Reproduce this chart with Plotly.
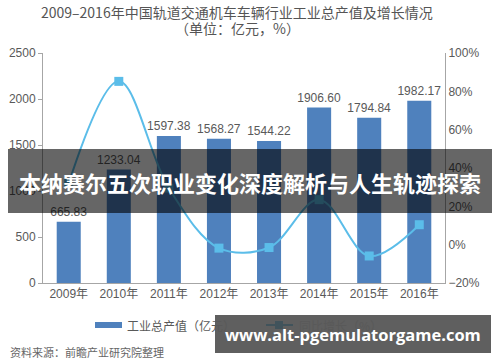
import plotly.graph_objects as go

years = ["2009年", "2010年", "2011年", "2012年", "2013年", "2014年", "2015年", "2016年"]
output_values = [665.83, 1233.04, 1597.38, 1568.27, 1544.22, 1906.60, 1794.84, 1982.17]
growth_values = [32.0, 85.2, 29.5, -1.8, -1.5, 23.5, -5.9, 10.4]
output_labels = ["665.83", "1233.04", "1597.38", "1568.27", "1544.22", "1906.60", "1794.84", "1982.17"]

BAR = "#4f81bd"
LINE = "#5bbde9"
GRAY = "#595959"
FONT = "Noto Sans CJK SC, Noto Sans, sans-serif"
NUMFONT = "Liberation Sans, Arial, Noto Sans CJK SC, sans-serif"

# plot-area geometry in px (for paper conversions of overlays)
L, R, T, B = 43, 55, 53, 79
W, H = 500, 362
PW, PH = W - L - R, H - T - B


def px(x):
    return (x - L) / PW


def py(y):
    return (H - B - y) / PH


fig = go.Figure()
fig.add_trace(go.Bar(
    x=years, y=output_values, name="工业总产值（亿元）",
    marker=dict(color=BAR, line=dict(width=0)), width=0.48,
    text=output_labels, textposition="outside", cliponaxis=False, constraintext="none",
    textfont=dict(size=12, color=GRAY, family=NUMFONT),
))
fig.add_trace(go.Scatter(
    x=years, y=growth_values, name="同比增长（%）", yaxis="y2",
    mode="lines+markers", line=dict(color=LINE, width=2, shape="spline", smoothing=1.0),
    marker=dict(symbol="square", size=9, color=LINE),
))

shapes = [
    # banner overlay
    dict(type="rect", xref="paper", yref="paper", x0=px(8), x1=px(492), y0=py(213), y1=py(149),
         fillcolor="rgba(0,0,0,0.6)", line=dict(width=0), layer="above"),
    # legend symbols
    dict(type="rect", xref="paper", yref="paper", x0=px(95), x1=px(122), y0=py(328), y1=py(322),
         fillcolor=BAR, line=dict(width=0), layer="above"),
    dict(type="line", xref="paper", yref="paper", x0=px(266), x1=px(293), y0=py(325), y1=py(325),
         line=dict(color=LINE, width=2), layer="above"),
    dict(type="rect", xref="paper", yref="paper", x0=px(275), x1=px(283), y0=py(329), y1=py(321),
         fillcolor=LINE, line=dict(width=0), layer="above"),
    # watermark box
    dict(type="rect", xref="paper", yref="paper", x0=px(215), x1=px(491), y0=py(353), y1=py(315),
         fillcolor="rgba(60,60,60,0.82)", line=dict(width=0), layer="above"),
]

annotations = [
    dict(text="2009–2016年中国轨道交通机车车辆行业工业总产值及增长情况", x=px(237), y=py(12),
         xref="paper", yref="paper", showarrow=False, xanchor="center", yanchor="middle",
         font=dict(size=14, color="#555555", family=FONT)),
    dict(text="（单位：亿元，%）", x=px(237), y=py(28),
         xref="paper", yref="paper", showarrow=False, xanchor="center", yanchor="middle",
         font=dict(size=14, color="#555555", family=FONT)),
    dict(text="工业总产值（亿元）", x=px(125), y=py(325),
         xref="paper", yref="paper", showarrow=False, xanchor="left", yanchor="middle",
         font=dict(size=12, color=GRAY, family=FONT)),
    dict(text="同比增长（%）", x=px(297), y=py(325),
         xref="paper", yref="paper", showarrow=False, xanchor="left", yanchor="middle",
         font=dict(size=12, color=GRAY, family=FONT)),
    dict(text="资料来源：前瞻产业研究院整理", x=px(8), y=py(352),
         xref="paper", yref="paper", showarrow=False, xanchor="left", yanchor="middle",
         font=dict(size=11, color="#666666", family=FONT)),
    dict(text="<b>本纳赛尔五次职业变化深度解析与人生轨迹探索</b>", x=px(250), y=py(182),
         xref="paper", yref="paper", showarrow=False, xanchor="center", yanchor="middle",
         font=dict(size=22, color="white", family=FONT)),
    dict(text="<b>www.alt-pgemulatorgame.com</b>", x=px(353), y=py(334),
         xref="paper", yref="paper", showarrow=False, xanchor="center", yanchor="middle",
         font=dict(size=16.5, color="white", family="Open Sans, DejaVu Sans, sans-serif")),
]

fig.update_layout(
    width=W, height=H, margin=dict(l=L, r=R, t=T, b=B, autoexpand=False),
    paper_bgcolor="white", plot_bgcolor="white", showlegend=False,
    font=dict(family=FONT, color=GRAY, size=12),
    xaxis=dict(showgrid=False, showline=True, linecolor="#a6a6a6", linewidth=1, automargin=False,
               tickfont=dict(size=12, color=GRAY, family=NUMFONT), ticks="", zeroline=False),
    yaxis=dict(range=[0, 2500], dtick=500, showgrid=False, showline=True, linecolor="#a6a6a6",
               linewidth=1, ticks="outside", ticklen=4, tickcolor="#a6a6a6", automargin=False,
               tickfont=dict(size=12, color=GRAY, family=NUMFONT), zeroline=False),
    yaxis2=dict(range=[-20, 100], dtick=20, overlaying="y", side="right", showgrid=False,
                showline=True, linecolor="#a6a6a6", linewidth=1, ticksuffix="%", ticks="",
                automargin=False, tickfont=dict(size=12, color=GRAY, family=NUMFONT), zeroline=False),
    shapes=shapes, annotations=annotations,
)

fig.write_html("out.html", config={"displayModeBar": False},
               post_script="document.body.style.margin='0';document.body.style.overflow='hidden';")
